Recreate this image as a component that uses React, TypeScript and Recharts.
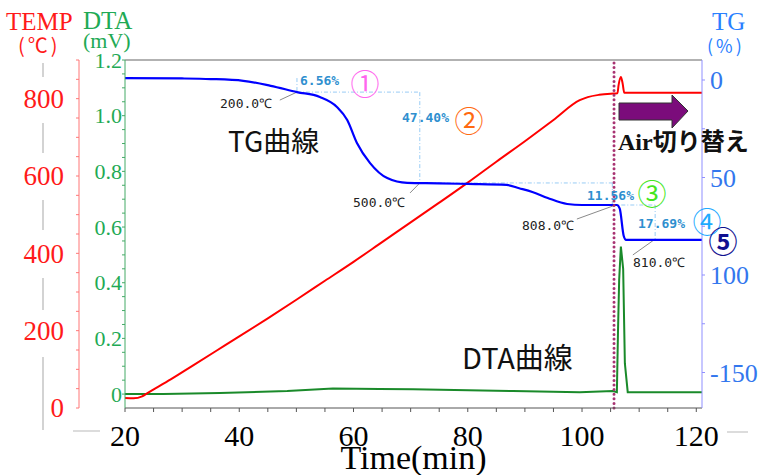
import React from "react";
import { ComposedChart, Line, XAxis, YAxis, ReferenceLine } from "recharts";

// axis labels
const TIME_TICKS = [20, 40, 60, 80, 100, 120];
const TEMP_TICKS = [0, 200, 400, 600, 800];
const DTA_TICKS = [0, 0.2, 0.4, 0.6, 0.8, 1.0, 1.2];
const DTA_TICK_LABELS = ["0", "0.2", "0.4", "0.6", "0.8", "1.0", "1.2"];
const TG_TICKS = [0, -50, -100, -150];
const TG_TICK_LABELS = ["0", "50", "100", "-150"];

// TEMP (℃)
const TEMP_TIME = [20, 21.5, 23, 24, 28, 32, 36, 40, 45, 50, 55, 60, 65, 70, 75, 80, 85, 90, 95, 99.6, 101, 103, 105, 106.2, 106.4, 106.8, 107.1, 107.4, 121];
const TEMP_VALUES = [26, 25, 30, 39, 74, 111, 148, 185, 232, 280, 329, 378, 429, 480, 531, 583, 637, 690, 745, 796, 804, 810, 813, 814, 835, 856, 840, 815, 815];

// DTA (mV)
const DTA_TIME = [20, 26.7, 36.6, 48.4, 56.4, 64.6, 70.4, 87.9, 99.6, 105.4, 106.1, 106.3, 106.5, 106.8, 107.2, 107.5, 108.0, 121];
const DTA_VALUES = [0, 0, 0.004, 0.011, 0.02, 0.018, 0.017, 0.011, 0.007, 0.011, 0.007, 0.23, 0.41, 0.53, 0.45, 0.11, 0.007, 0.007];

// TG (%)
const TG_TIME = [20, 30, 35, 40.7, 45.5, 50.1, 54.1, 57.1, 58.9, 60.6, 62.9, 65.9, 69.4, 75, 80, 86.8, 89, 91.3, 94, 97.4, 100, 106.1, 106.6, 107.3, 107.7, 121];
const TG_VALUES = [1.0, 0.8, 0.5, -0.4, -3, -6.2, -8.7, -13.8, -20.5, -32.3, -42.6, -50.3, -52.8, -53.0, -53.3, -53.8, -55.5, -57.4, -60.5, -63.6, -64.1, -64.1, -66, -80, -82, -82];

// step boxes and leader lines (time, TG)
const BOX_SEGMENTS = [
  [[50.1, 1], [50.1, -6.2]],
  [[50.1, -6.2], [71.6, -6.2]],
  [[71.6, -6.2], [71.6, -52.8]],
  [[71.6, -52.8], [105.3, -52.8]],
  [[105.3, -52.8], [105.3, -64.1]],
  [[105.3, -64.1], [112.8, -64.1]],
  [[112.8, -64.1], [112.8, -82]],
];
const LEADERS = [
  [[47.1, -10.3], [50.1, -6.2]],
  [[69.9, -57.9], [71.6, -52.8]],
  [[99.1, -71.3], [105.6, -64.4]],
  [[108.9, -89.7], [112.6, -82]],
];
const AIR_SWITCH_TIME = 105.6;

const range = (a: number, b: number, s: number) => {
  const out: number[] = [];
  for (let v = a; v <= b + 1e-9; v += s) out.push(Math.round(v * 1000) / 1000);
  return out;
};

const toRows = (t: number[], v: number[]) => t.map((x, i) => ({ t: x, v: v[i] }));
const labelFrom = (ticks: number[], labels: string[]) => (v: number) => {
  const i = ticks.findIndex((k) => Math.abs(k - v) < 1e-6);
  return i >= 0 ? labels[i] : "";
};

const tempData = toRows(TEMP_TIME, TEMP_VALUES);
const dtaData = toRows(DTA_TIME, DTA_VALUES);
const tgData = toRows(TG_TIME, TG_VALUES);

const SERIF = "'Liberation Serif', 'DejaVu Serif', serif";
const JP = "'Noto Sans CJK JP', sans-serif";
const MONO = "'DejaVu Sans Mono', monospace";

const tickOf = (fmt: (v: number) => string, fill: string, fontSize: number, dy: string) => (p: any) => {
  const s = fmt(p.payload.value);
  if (!s) return <g />;
  return (
    <text
      x={p.x}
      y={p.y}
      dy={dy}
      textAnchor={p.textAnchor}
      fill={fill}
      style={{ fontFamily: SERIF, fontSize }}
    >
      {s}
    </text>
  );
};

export default function App() {
  return (
    <div style={{ position: "absolute", left: 0, top: 0, width: 760, height: 475, background: "#fff", fontFamily: SERIF }}>
      <ComposedChart width={760} height={475} margin={{ top: 60, right: 0, bottom: 0, left: 0 }} style={{ fontFamily: SERIF }}>
        <XAxis
          type="number"
          dataKey="t"
          domain={[20, 121]}
          ticks={range(20, 120, 5)}
          interval={0}
          allowDataOverflow
          height={67}
          tickSize={4}
          tickMargin={13}
          stroke="#555"
          tick={tickOf(labelFrom(TIME_TICKS, TIME_TICKS.map(String)), "#000", 30, "0.71em")}
          label={{ value: "Time(min)", position: "insideBottom", offset: 6, fill: "#000", fontSize: 34, fontFamily: SERIF }}
        />
        <YAxis
          yAxisId="dta"
          orientation="left"
          width={46}
          domain={[-0.05, 1.2]}
          ticks={range(0, 1.2, 0.05)}
          interval={0}
          allowDataOverflow
          tickSize={3}
          tickMargin={0}
          stroke="#44aa66"
          tick={tickOf(labelFrom(DTA_TICKS, DTA_TICK_LABELS), "#1faa55", 22, "0.35em")}
        />
        <YAxis
          yAxisId="temp"
          orientation="left"
          width={79}
          domain={[0, 900]}
          ticks={range(0, 900, 50)}
          interval={0}
          allowDataOverflow
          tickSize={3}
          tickMargin={12}
          stroke="#ff7777"
          tick={tickOf(labelFrom(TEMP_TICKS, TEMP_TICKS.map(String)), "#ff1a1a", 27, "0.35em")}
        />
        <YAxis
          yAxisId="tg"
          orientation="right"
          width={58}
          domain={[-168.2, 10.26]}
          ticks={range(-150, 0, 25)}
          interval={0}
          allowDataOverflow
          tickSize={3}
          tickMargin={5}
          stroke="#8f8fff"
          tick={tickOf(labelFrom(TG_TICKS, TG_TICK_LABELS), "#3377ee", 26, "0.35em")}
        />

        <ReferenceLine yAxisId="dta" y={1.2} stroke="#999" strokeWidth={1.5} />

        {BOX_SEGMENTS.map((s, i) => (
          <ReferenceLine
            key={`box-${i}`}
            yAxisId="tg"
            segment={[{ x: s[0][0], y: s[0][1] }, { x: s[1][0], y: s[1][1] }]}
            stroke="#99ccf5"
            strokeWidth={1}
            strokeDasharray="4 2 1 2"
            ifOverflow="visible"
          />
        ))}
        {LEADERS.map((s, i) => (
          <ReferenceLine
            key={`lead-${i}`}
            yAxisId="tg"
            segment={[{ x: s[0][0], y: s[0][1] }, { x: s[1][0], y: s[1][1] }]}
            stroke="#8a8a8a"
            strokeWidth={1}
            ifOverflow="visible"
          />
        ))}

        <Line
          yAxisId="dta"
          data={dtaData}
          dataKey="v"
          type="linear"
          stroke="#1a8a2a"
          strokeWidth={2}
          dot={false}
          isAnimationActive={false}
        />
        <Line
          yAxisId="temp"
          data={tempData}
          dataKey="v"
          type="monotone"
          stroke="#ff0000"
          strokeWidth={2}
          dot={false}
          isAnimationActive={false}
        />
        <Line
          yAxisId="tg"
          data={tgData}
          dataKey="v"
          type="monotone"
          stroke="#0000ff"
          strokeWidth={2.2}
          dot={false}
          isAnimationActive={false}
        />

        <ReferenceLine
          yAxisId="dta"
          x={AIR_SWITCH_TIME}
          stroke="#a83372"
          strokeWidth={3}
          strokeDasharray="0 4.6"
          strokeLinecap="round"
        />
      </ComposedChart>

      <svg width={760} height={475} style={{ position: "absolute", left: 0, top: 0, pointerEvents: "none" }}>
        {/* faint frame left over from the original layout */}
        {[[63, 77], [123, 153], [200, 230], [278, 310], [357, 430]].map(([a, b], i) => (
          <line key={i} x1={43} y1={a} x2={43} y2={b} stroke="#c4c4c4" strokeWidth={1.5} />
        ))}
        <line x1={73} y1={431} x2={100} y2={431} stroke="#d0d0d0" strokeWidth={1.5} />
        <line x1={727} y1={432} x2={748} y2={432} stroke="#d0d0d0" strokeWidth={1.5} />

        <text x={6} y={30} fill="#ff1a1a" fontFamily={SERIF} fontSize={25}>TEMP</text>
        <text x={18} y={53} fill="#ff1a1a" fontFamily={JP} fontSize={20} letterSpacing={3}>(℃)</text>
        <text x={83} y={29} fill="#1faa55" fontFamily={SERIF} fontSize={25}>DTA</text>
        <text x={83} y={48} fill="#1faa55" fontFamily={SERIF} fontSize={22}>(mV)</text>
        <text x={712} y={30} fill="#2a80ff" fontFamily={SERIF} fontSize={25}>TG</text>
        <text x={707} y={53} fill="#2a80ff" fontFamily={JP} fontSize={18} letterSpacing={3}>(%)</text>

        <text x={228} y={152} fill="#111" fontFamily={JP} fontSize={28}>TG曲線</text>
        <text x={462} y={369} fill="#111" fontFamily={JP} fontSize={29}>DTA曲線</text>

        <g fontFamily={MONO} fontSize={13} fill="#2f8fcf" fontWeight="bold">
          <text x={300} y={85}>6.56%</text>
          <text x={402} y={122}>47.40%</text>
          <text x={587} y={200}>11.56%</text>
          <text x={638} y={228}>17.69%</text>
        </g>
        <g fontFamily={MONO} fontSize={13} fill="#222">
          <text x={220} y={108}>200.0℃</text>
          <text x={353} y={207}>500.0℃</text>
          <text x={522} y={230}>808.0℃</text>
          <text x={633} y={267}>810.0℃</text>
        </g>

        <g fontFamily={JP} fontSize={29} textAnchor="middle" dominantBaseline="central">
          <text x={365} y={82} fill="#ff66ee">①</text>
          <text x={469} y={119} fill="#ff6a10">②</text>
          <text x={652} y={192} fill="#44e61e">③</text>
          <text x={707} y={220} fill="#1eaaff">④</text>
          <text x={723} y={240} fill="#101090" fontWeight="bold">⑤</text>
        </g>

        <polygon
          points="619,103 672,103 672,95 688,111 672,128 672,120 619,120"
          fill="#7b0c7b"
          stroke="#333"
          strokeWidth={1}
        />
        <text x={618} y={150} fill="#111" fontSize={24} fontWeight="bold">
          <tspan fontFamily={SERIF}>Air</tspan>
          <tspan fontFamily={JP}>切り替え</tspan>
        </text>
      </svg>
    </div>
  );
}
